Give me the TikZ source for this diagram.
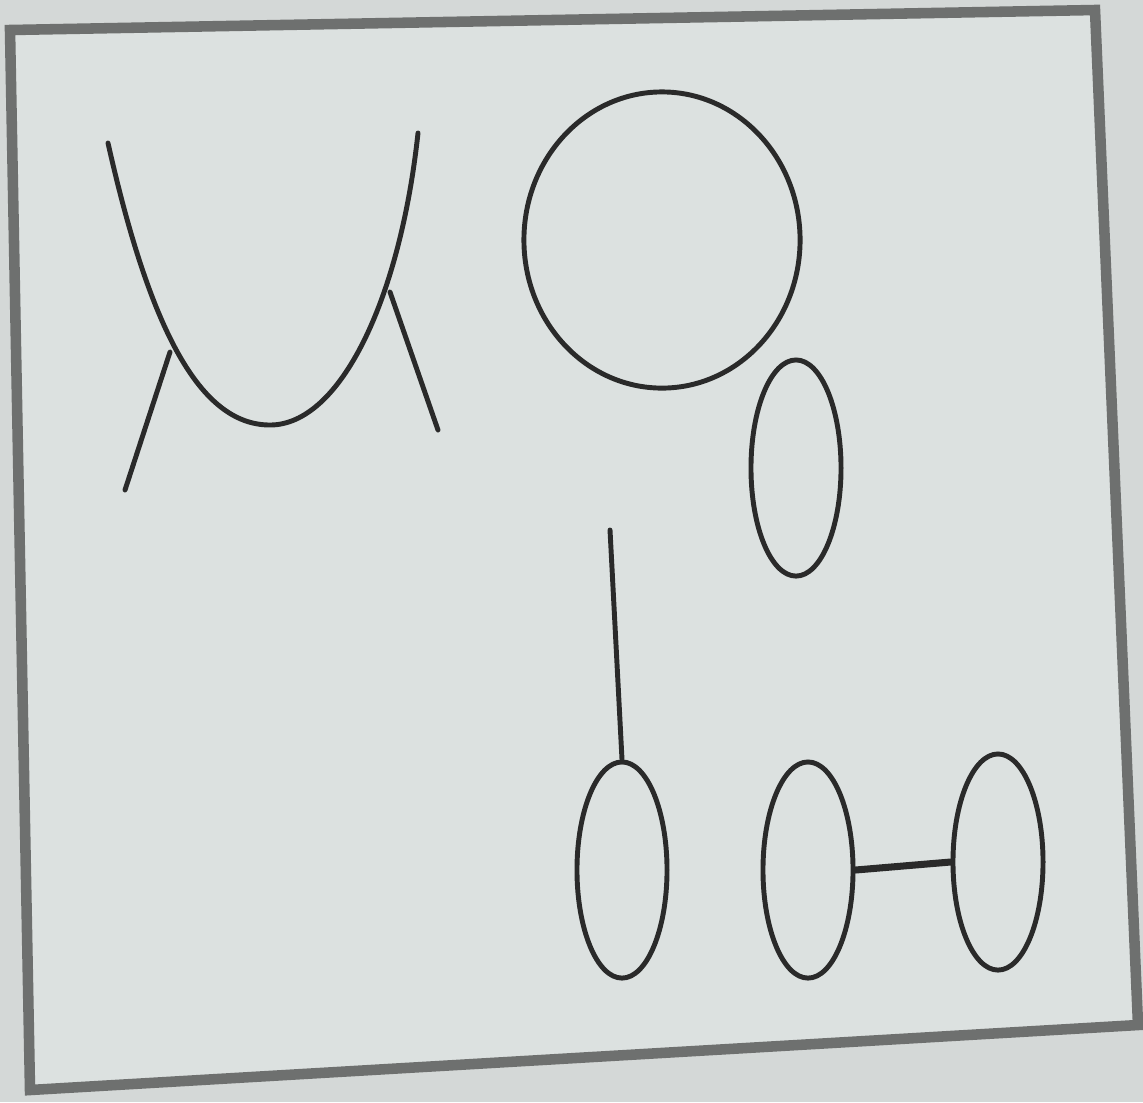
\documentclass[tikz,border=0pt]{standalone}
\usepackage{tikz}
\usetikzlibrary{shapes.geometric,positioning}
\definecolor{paper}{HTML}{D4D8D7}
\definecolor{sheet}{HTML}{DCE1E0}
\definecolor{ink}{HTML}{2A2A2A}
\definecolor{rim}{HTML}{6E706F}

\begin{document}
\begin{tikzpicture}[
    x=0.01cm, y=-0.01cm,
    stroke/.style={draw=ink, line width=1.4pt, line cap=round},
    oval/.style={ellipse, draw=ink, line width=1.4pt, minimum width=0.9cm, minimum height=2.16cm, inner sep=0pt}
]
% paper and frame
\fill[paper] (0,0) rectangle (1143,1102);
\useasboundingbox (0,0) rectangle (1143,1102);
\filldraw[fill=sheet, draw=rim, line width=3pt] (10,30) -- (1095,10) -- (1138,1025) -- (30,1090) -- cycle;
% parabola with its two legs
\draw[stroke] (108,143) .. controls (150,330) and (200,425) .. (270,425)
                        .. controls (340,425) and (400,300) .. (418,133);
\draw[stroke] (170,352) -- (125,490);
\draw[stroke] (390,292) -- (438,430);
% big circle
\node[oval, minimum width=2.76cm, minimum height=2.96cm] (big) at (662,240) {};
% ellipses
\node[oval] (upper) at (796,468) {};
\node[oval] (stem)  at (622,870) {};
\node[oval] (left)  at (808,870) {};
\node[oval] (right) at (998,862) {};
% connectors
\coordinate (top) at (610,530);
\draw[stroke] (top) -- (stem.north);
\draw[stroke, line width=2pt] (left.east) -- (right.west);
\end{tikzpicture}
\end{document}
